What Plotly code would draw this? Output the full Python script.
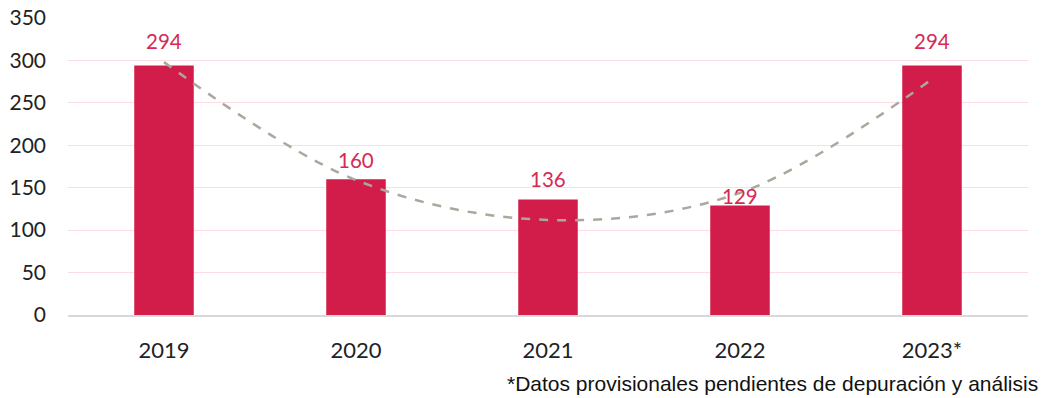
import plotly.graph_objects as go

# Data
years = ["2019", "2020", "2021", "2022", "2023*"]
values = [294, 160, 136, 129, 294]
trend_values = [298, 159, 112, 144, 278]  # polynomial trendline
y_ticks = [0, 50, 100, 150, 200, 250, 300, 350]
footnote = "*Datos provisionales pendientes de depuración y análisis"

# Styles
BAR = "#D21C4A"
LABEL = "#D42A55"
TREND = "#ABA79C"
label_shift = [25, 19, 21, 10, 25]  # pixel offsets of the data labels above bar tops

idx = list(range(len(years)))

fig = go.Figure()
fig.add_trace(go.Bar(x=idx, y=values, marker=dict(color=BAR, line=dict(width=0)),
                     width=0.31, hovertext=years, hoverinfo="text+y"))
fig.add_trace(go.Scatter(x=idx, y=trend_values, mode="lines", line_shape="spline",
                         line=dict(color=TREND, width=2.5, dash="dash"), hoverinfo="skip"))

for i, v, s in zip(idx, values, label_shift):
    fig.add_annotation(x=i, y=v, text=str(v), showarrow=False, yanchor="middle",
                       yshift=s, font=dict(family="Lato, Open Sans, sans-serif", size=20.5, color=LABEL))

fig.add_annotation(xref="paper", yref="paper", x=1.0125, y=0, yshift=-68,
                   xanchor="right", yanchor="middle", showarrow=False, text=footnote,
                   font=dict(family="Liberation Sans, Arial, sans-serif", size=21, color="#111111"))

fig.update_layout(
    width=1049, height=398,
    margin=dict(l=68, r=21, t=18, b=83),
    plot_bgcolor="white", paper_bgcolor="white",
    showlegend=False,
    font=dict(family="Lato, Open Sans, sans-serif", size=21, color="#222222"),
)
fig.update_xaxes(range=[-0.5, 4.5], tickvals=idx, ticktext=years, showgrid=False, zeroline=False,
                 showline=True, linecolor="#D9D9D9", linewidth=1.5, automargin=False,
                 ticks="", ticklabelstandoff=15, tickfont=dict(size=22, color="#222222"))
fig.update_yaxes(range=[0, 350], tickvals=y_ticks, showgrid=True, gridcolor="#FBDDE3", gridwidth=1,
                 zeroline=False, showline=False, ticks="", ticklabelstandoff=21, automargin=False,
                 ticklabeloverflow="allow", tickfont=dict(size=21, color="#222222"))

# remove the default page margin so the figure fills the window exactly
fig.write_html("out.html", config={"displayModeBar": False},
               post_script="document.body.style.margin='0';document.body.style.overflow='hidden';")
